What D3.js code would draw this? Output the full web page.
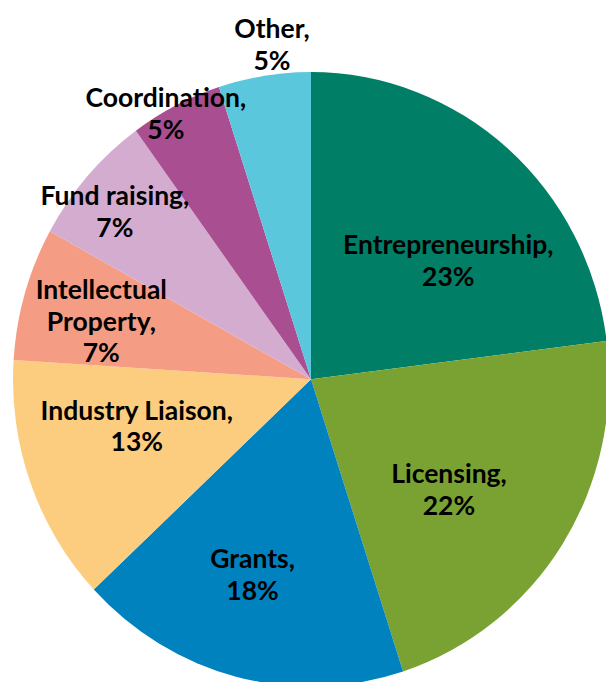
<!DOCTYPE html>
<html>
<head>
<meta charset="utf-8">
<script src="https://cdn.jsdelivr.net/npm/d3@7"></script>
<style>
  html, body { margin: 0; padding: 0; background: #fff; }
  svg { display: block; }
  .label { font-family: Lato, "Open Sans", sans-serif; font-weight: 700; font-size: 26.5px; fill: #000; }
</style>
</head>
<body>
<div id="chart"></div>
<script>
const categories = ['Entrepreneurship', 'Licensing', 'Grants', 'Industry Liaison',
  'Intellectual Property', 'Fund raising', 'Coordination', 'Other']
const shares = [23, 22, 18, 13, 7, 7, 5, 5]
const colors = ['#007f66', '#79a232', '#0082be', '#fdcd7f',
  '#f59c85', '#d4acd0', '#a94f91', '#5ac7dd']

// how each label is broken onto lines
const labelLines = {
  'Intellectual Property': ['Intellectual', 'Property,']
}

// nudges of label block centres away from the slice centroid (px)
const labelNudge = {
  'Entrepreneurship': [19, 20],
  'Licensing': [-13, 12],
  'Grants': [-14, 17],
  'Industry Liaison': [-6, -15],
  'Intellectual Property': [-38, -6],
  'Fund raising': [-62, -45],
  'Coordination': [-64, -101],
  'Other': [-11, -152]
}

const width = 606
const height = 682
const cx = 311
const cy = 379.3
const radius = 298
const squash = 1.031   // the source pie is a touch taller than wide
const lineHeight = 31.7
const capHeight = 17.7

const data = categories.map((c, i) => ({name: c, value: shares[i], color: colors[i]}))

const pie = d3.pie().sort(null).value(d => d.value)
const arc = d3.arc().innerRadius(0).outerRadius(radius)
const labelArc = d3.arc().innerRadius(radius * 0.6).outerRadius(radius * 0.6)

const svg = d3.select('#chart')
  .append('svg')
    .attr('width', width)
    .attr('height', height)

const arcs = pie(data)

svg.append('g')
    .attr('transform', `translate(${cx}, ${cy}) scale(1, ${squash})`)
  .selectAll('path')
  .data(arcs)
  .enter()
    .append('path')
      .attr('d', arc)
      .attr('fill', d => d.data.color)

const label = svg.selectAll('.label')
  .data(arcs)
  .enter()
    .append('text')
      .attr('class', 'label')
      .attr('text-anchor', 'middle')
      .attr('transform', d => {
        const [x, y] = labelArc.centroid(d)
        const [dx, dy] = labelNudge[d.data.name]
        return `translate(${cx + x + dx}, ${cy + y * squash + dy})`
      })

label.each(function(d) {
  const lines = (labelLines[d.data.name] || [d.data.name + ',']).concat([d.data.value + '%'])
  const n = lines.length
  d3.select(this).selectAll('tspan')
    .data(lines)
    .enter()
      .append('tspan')
        .attr('x', 0)
        .attr('y', (l, i) => capHeight / 2 + (i - (n - 1) / 2) * lineHeight)
        .text(l => l)
})
</script>
</body>
</html>
